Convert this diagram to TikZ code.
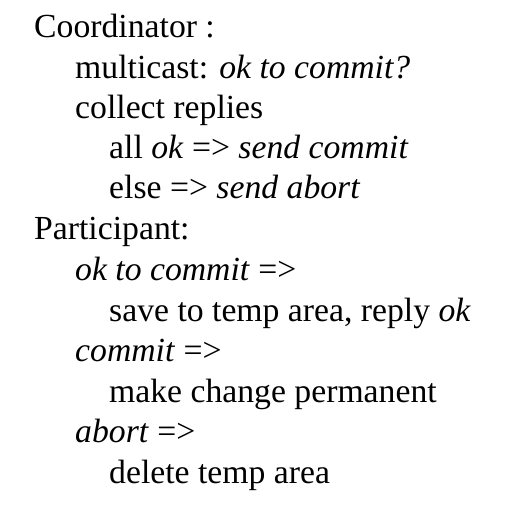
\documentclass[tikz,border=0pt]{standalone}
\usepackage{fontspec}
\setmainfont{Liberation Serif}
\begin{document}
\begin{tikzpicture}[x=1pt,y=-1pt,
  line/.style={anchor=base west,inner sep=0pt,font=\fontsize{33.7}{40}\selectfont}]
\useasboundingbox (0,0) rectangle (508,514);
\node[line] (l1) at (34,37) {Coordinator :};
\node[line] (l2) at (75,78) {multicast: \textit{ok to commit?}};
\node[line] (l3) at (75,118) {collect replies};
\node[line] (l4) at (109,158) {all \textit{ok} => \textit{send commit}};
\node[line] (l5) at (109,198) {else => \textit{send abort}};
\node[line] (l6) at (34,239) {Participant:};
\node[line] (l7) at (75,280) {\textit{ok to commit} =>};
\node[line] (l8) at (109,321) {save to temp area, reply \textit{ok}};
\node[line] (l9) at (75,361) {\textit{commit} =>};
\node[line] (l10) at (109,402) {make change permanent};
\node[line] (l11) at (75,442) {\textit{abort} =>};
\node[line] (l12) at (109,483) {delete temp area};
\end{tikzpicture}
\end{document}
